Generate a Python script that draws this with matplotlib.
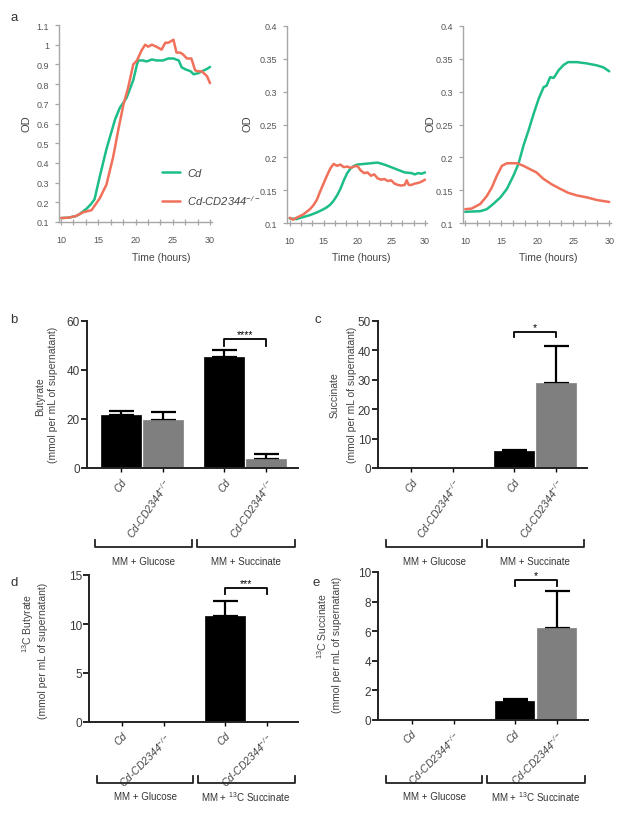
import numpy as np
import matplotlib
matplotlib.use("Agg")
import matplotlib.pyplot as plt
from matplotlib.ticker import FuncFormatter, MultipleLocator
from matplotlib.transforms import blended_transform_factory

plt.rcParams['font.family'] = ['Liberation Sans', 'DejaVu Sans']
plt.rcParams['mathtext.default'] = 'regular'

# ---- panel a: growth curves (OD vs time in hours) ----
a1_cd_t = [10, 11, 12, 12.5, 13, 13.5, 14, 14.5, 15.2, 16.1, 17.25, 17.9, 18.8, 19.7, 20.2,
           20.4, 21.0, 21.5, 22.2, 22.8, 23.7, 24.4, 25.1, 25.8, 26.2, 26.7, 27.4, 27.8, 28.4,
           28.9, 29.6, 30]
a1_cd_od = [0.12, 0.122, 0.13, 0.14, 0.155, 0.17, 0.19, 0.215, 0.33, 0.47, 0.62, 0.68, 0.73,
            0.82, 0.9, 0.92, 0.92, 0.915, 0.925, 0.92, 0.92, 0.93, 0.93, 0.92, 0.885, 0.875,
            0.865, 0.85, 0.855, 0.865, 0.877, 0.887]
a1_ko_t = [10, 11, 12, 13, 14.1, 15.2, 16.1, 17.0, 17.7, 18.4, 19.0, 19.7, 20.2, 20.8, 21.3,
           21.7, 22.2, 22.8, 23.5, 24.0, 24.4, 25.1, 25.5, 26.0, 26.4, 26.9, 27.5, 28.0, 28.4,
           28.9, 29.6, 30]
a1_ko_od = [0.12, 0.122, 0.13, 0.15, 0.16, 0.22, 0.29, 0.43, 0.57, 0.7, 0.78, 0.9, 0.92, 0.97,
            1.0, 0.99, 1.0, 0.99, 0.975, 1.01, 1.01, 1.025, 0.96, 0.96, 0.95, 0.93, 0.93, 0.87,
            0.865, 0.865, 0.84, 0.805]

a2_cd_t = [10, 11, 12, 13, 14, 15, 15.5, 16, 16.5, 17, 17.5, 18, 18.5, 19, 19.5, 20, 21, 22,
           23, 24, 25, 26, 27, 28, 28.5, 29, 29.5, 30]
a2_cd_od = [0.107, 0.106, 0.109, 0.112, 0.116, 0.121, 0.124, 0.128, 0.134, 0.142, 0.152, 0.165,
            0.176, 0.183, 0.187, 0.189, 0.19, 0.191, 0.192, 0.189, 0.185, 0.181, 0.177, 0.176,
            0.174, 0.176, 0.175, 0.177]
a2_ko_t = [10, 10.5, 11, 12, 12.5, 13, 13.5, 14, 14.5, 15, 15.5, 16, 16.5, 17, 17.5, 18, 18.5,
           19, 19.5, 20, 20.5, 21, 21.5, 22, 22.5, 23, 23.5, 24, 24.5, 25, 25.5, 26, 26.5, 27,
           27.3, 27.6, 28, 28.5, 29, 29.5, 30]
a2_ko_od = [0.108, 0.105, 0.108, 0.113, 0.117, 0.121, 0.127, 0.135, 0.148, 0.16, 0.172, 0.183,
            0.19, 0.187, 0.189, 0.185, 0.186, 0.184, 0.186, 0.187, 0.18, 0.176, 0.177, 0.172,
            0.174, 0.168, 0.166, 0.167, 0.164, 0.165, 0.16, 0.158, 0.157, 0.158, 0.165, 0.158,
            0.158, 0.16, 0.161, 0.163, 0.166]

a3_cd_t = [10, 12.1, 13.0, 13.9, 14.9, 15.8, 16.7, 17.4, 18.1, 18.8, 19.5, 20.2, 20.9, 21.3,
           21.8, 22.3, 23.0, 23.7, 24.3, 25.5, 26.9, 28.3, 29.2, 30]
a3_cd_od = [0.117, 0.118, 0.121, 0.129, 0.139, 0.152, 0.172, 0.19, 0.218, 0.241, 0.266, 0.289,
            0.307, 0.309, 0.322, 0.321, 0.333, 0.341, 0.345, 0.345, 0.343, 0.340, 0.337, 0.331]
a3_ko_t = [10, 10.9, 12.1, 13.0, 13.7, 14.4, 15.1, 15.8, 17.2, 18.1, 19.0, 19.9, 20.9, 22.0,
           23.2, 24.3, 25.5, 26.9, 28.3, 30]
a3_ko_od = [0.121, 0.122, 0.129, 0.141, 0.154, 0.172, 0.187, 0.191, 0.191, 0.187, 0.182, 0.177,
            0.167, 0.159, 0.152, 0.146, 0.142, 0.139, 0.135, 0.132]

# ---- panels b-e: metabolite levels (mmol per mL of supernatant) ----
strains = ['Cd', 'Cd-CD2344$^{-/-}$', 'Cd', 'Cd-CD2344$^{-/-}$']
b_vals = [21.5, 19.7, 45.5, 3.8]
b_errs = [1.8, 3.1, 2.5, 2.1]
c_vals = [0, 0, 5.7, 29.0]
c_errs = [0, 0, 0.5, 12.5]
d_vals = [0, 0, 10.8, 0]
d_errs = [0, 0, 1.5, 0]
e_vals = [0, 0, 1.3, 6.2]
e_errs = [0, 0, 0.12, 2.55]

GREEN = '#1dbd8a'
ORANGE = '#f0705a'
W, H = 624, 820
fig = plt.figure(figsize=(W / 100, H / 100), dpi=100)


def px_axes(x0, y0, x1, y1):
    return fig.add_axes([x0 / W, 1 - y1 / H, (x1 - x0) / W, (y1 - y0) / H])


def ftext(x, y, s, **kw):
    fig.text(x / W, 1 - y / H, s, **kw)


def growth(ax, cd_t, cd_od, ko_t, ko_od, xlim, ylim, step):
    ax.plot(cd_t, cd_od, color=GREEN, lw=1.8, solid_capstyle='round')
    ax.plot(ko_t, ko_od, color=ORANGE, lw=1.8, solid_capstyle='round')
    ax.set_xlim(xlim)
    ax.set_ylim(ylim)
    ax.yaxis.set_major_locator(MultipleLocator(step))
    ax.yaxis.set_major_formatter(FuncFormatter(lambda v, p: f"{round(v, 2):g}"))
    ax.xaxis.set_major_locator(MultipleLocator(5))
    ax.xaxis.set_minor_locator(MultipleLocator(5 / 3))
    for s in ['top', 'right']:
        ax.spines[s].set_visible(False)
    for s in ['left', 'bottom']:
        ax.spines[s].set_color('#a6a6a6')
        ax.spines[s].set_linewidth(1.0)
    ax.tick_params(axis='both', which='both', color='#a6a6a6', labelcolor='#555555',
                   labelsize=6.5, width=0.9)
    ax.tick_params(axis='x', which='both', direction='inout', length=5, pad=7)
    ax.tick_params(axis='y', length=3, pad=4)


ax1 = px_axes(59, 26, 212, 223)
growth(ax1, a1_cd_t, a1_cd_od, a1_ko_t, a1_ko_od, (9.73, 30.27), (0.1, 1.1), 0.1)
ax2 = px_axes(287, 27, 427, 224)
growth(ax2, a2_cd_t, a2_cd_od, a2_ko_t, a2_ko_od, (9.6, 30.3), (0.1, 0.4), 0.05)
ax3 = px_axes(463, 27, 611, 224)
growth(ax3, a3_cd_t, a3_cd_od, a3_ko_t, a3_ko_od, (9.7, 30.25), (0.1, 0.4), 0.05)

leg = ax1.legend(ax1.lines, ['Cd', 'Cd-CD2344$^{-/-}$'], loc='lower left',
                 bbox_to_anchor=(0.67, 0.075), frameon=False, borderpad=0, borderaxespad=0,
                 handlelength=1.7, handletextpad=0.6, labelspacing=1.4,
                 prop={'size': 8, 'style': 'italic'})
for t in leg.get_texts():
    t.set_color('#444444')

for x, y in [(27, 124), (248, 124), (430, 124)]:
    ftext(x, y, 'OD', rotation=90, ha='center', va='center', fontsize=8, color='#444444')
for x in [161, 361, 548]:
    ftext(x, 258, 'Time (hours)', ha='center', va='center', fontsize=7.5, color='#444444')


def bars(ax, vals, errs, ylim, step, rot, stars, sig_y, sig_drop, groups, brk_px, txt_px):
    x = np.array([0.8, 1.8, 3.25, 4.25])
    colors = ['black', '#7f7f7f', 'black', '#7f7f7f']
    ax.bar(x, vals, width=0.95, color=colors, edgecolor=colors, linewidth=0.5, zorder=2)
    vals = np.array(vals)
    errs = np.array(errs)
    m = errs > 0
    ax.errorbar(x[m], vals[m], yerr=[np.zeros(m.sum()), errs[m]], fmt='none', ecolor='black',
                elinewidth=1.6, capsize=9, capthick=1.6, zorder=1)
    ax.set_xlim(0, 5)
    ax.set_ylim(ylim)
    ax.yaxis.set_major_locator(MultipleLocator(step))
    ax.set_xticks(x)
    ax.set_xticklabels(strains, rotation=rot, ha='right', rotation_mode='anchor',
                       fontsize=7.5, style='italic', color='#444444')
    for s in ['top', 'right']:
        ax.spines[s].set_visible(False)
    for s in ['left', 'bottom']:
        ax.spines[s].set_linewidth(1.4)
        ax.spines[s].set_color('#222222')
    ax.tick_params(axis='y', length=4, width=1.2, labelsize=8.5, labelcolor='#3a3a3a', pad=1)
    ax.tick_params(axis='x', length=3, width=1.0, pad=3)
    # significance bracket between the two succinate-medium bars
    ax.plot([x[2], x[2], x[3], x[3]], [sig_y - sig_drop, sig_y, sig_y, sig_y - sig_drop],
            color='black', lw=1.3, clip_on=False)
    ax.text((x[2] + x[3]) / 2, sig_y, stars, ha='center', va='bottom', fontsize=7.5)
    # medium group brackets under the tick labels
    hpx = ax.get_position().height * H
    tr = blended_transform_factory(ax.transData, ax.transAxes)
    yb = -brk_px / hpx
    up = 7 / hpx
    for (x0, x1), lab in zip([(0.2, 2.48), (2.6, 4.92)], groups):
        ax.plot([x0, x0, x1, x1], [yb + up, yb, yb, yb + up], color='#222222', lw=1.3,
                transform=tr, clip_on=False)
        ax.text((x0 + x1) / 2, -txt_px / hpx, lab, transform=tr, ha='center', va='center',
                fontsize=7, color='#333333')


axb = px_axes(87, 322, 298, 469)
bars(axb, b_vals, b_errs, (0, 60), 20, 55, '****', 52.6, 2.6,
     ['MM + Glucose', 'MM + Succinate'], 79, 93)
axc = px_axes(378, 322, 587, 469)
bars(axc, c_vals, c_errs, (0, 50), 10, 55, '*', 46.4, 1.9,
     ['MM + Glucose', 'MM + Succinate'], 79, 93)
axd = px_axes(89, 576, 298, 723)
bars(axd, d_vals, d_errs, (0, 15), 5, 45, '***', 13.7, 0.6,
     ['MM + Glucose', 'MM + $^{13}$C Succinate'], 61, 74)
axe = px_axes(378, 573, 588, 721)
bars(axe, e_vals, e_errs, (0, 10), 2, 45, '*', 9.46, 0.4,
     ['MM + Glucose', 'MM + $^{13}$C Succinate'], 63, 76)

unit = '(mmol per mL of supernatant)'
ylabs = [(40, 397, 'Butyrate'), (53, 395, unit),
         (335, 395, 'Succinate'), (352, 395, unit),
         (28, 623, '$^{13}$C Butyrate'), (43, 651, unit),
         (322, 626, '$^{13}$C Succinate'), (337, 645, unit)]
for x, y, s in ylabs:
    ftext(x, y, s, rotation=90, ha='center', va='center', fontsize=7.5, color='#444444')

for x, y, s in [(14, 18, 'a'), (14, 320, 'b'), (318, 320, 'c'), (14, 583, 'd'), (316, 583, 'e')]:
    ftext(x, y, s, ha='center', va='center', fontsize=9.5, color='#333333')

fig.savefig('out.png', dpi=100)
